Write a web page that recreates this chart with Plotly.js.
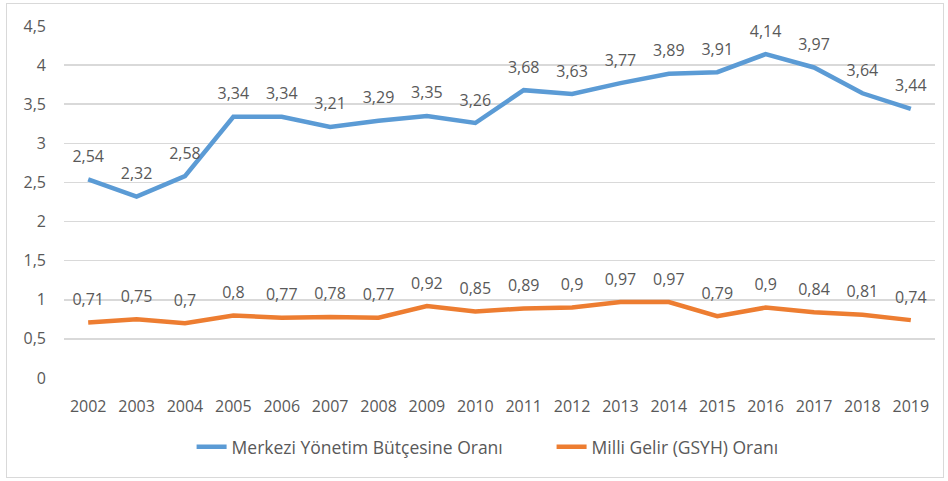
<!DOCTYPE html>
<html>
<head>
<meta charset="utf-8">
<script src="https://cdn.plot.ly/plotly-3.0.1.min.js"></script>
<style>
  html, body { margin: 0; padding: 0; background: #fff; }
  #wrap { position: relative; width: 948px; height: 481px; }
  #chart { width: 948px; height: 481px; }
  #frame { position: absolute; left: 6px; top: 3px; width: 936px; height: 473px;
           border: 1.5px solid #d9d9d9; pointer-events: none; }
</style>
</head>
<body>
<div id="wrap">
  <div id="chart"></div>
  <div id="frame"></div>
</div>
<script>
const years = ["2002","2003","2004","2005","2006","2007","2008","2009","2010","2011","2012","2013","2014","2015","2016","2017","2018","2019"];
const budgetShare = [2.54, 2.32, 2.58, 3.34, 3.34, 3.21, 3.29, 3.35, 3.26, 3.68, 3.63, 3.77, 3.89, 3.91, 4.14, 3.97, 3.64, 3.44];
const gdpShare = [0.71, 0.75, 0.70, 0.80, 0.77, 0.78, 0.77, 0.92, 0.85, 0.89, 0.90, 0.97, 0.97, 0.79, 0.90, 0.84, 0.81, 0.74];
const seriesNames = ["Merkezi Yönetim Bütçesine Oranı", "Milli Gelir (GSYH) Oranı"];
const yTicks = [0, 0.5, 1, 1.5, 2, 2.5, 3, 3.5, 4, 4.5];

const fmt = v => String(v).replace('.', ',');
const FONT = "Open Sans, sans-serif";
const TXT = "#595959";
const FS = 16;

function series(vals, name, color, legendId) {
  return {
    x: years, y: vals, name: name, type: 'scatter', mode: 'lines+markers+text',
    legend: legendId,
    line: { color: color, width: 4.5 },
    marker: { size: 20, color: 'rgba(0,0,0,0)', line: { width: 0 } },
    text: vals.map(fmt), textposition: 'top center',
    textfont: { family: FONT, size: FS, color: TXT },
    cliponaxis: false, hoverinfo: 'skip'
  };
}

const traces = [
  series(budgetShare, seriesNames[0], '#5B9BD5', 'legend'),
  series(gdpShare, seriesNames[1], '#ED7D31', 'legend2')
];

const legendBase = {
  orientation: 'h', xanchor: 'left', y: -0.196, yanchor: 'middle',
  font: { family: FONT, size: 17.5, color: TXT }, bgcolor: 'rgba(0,0,0,0)'
};

const layout = {
  width: 948, height: 481,
  margin: { l: 64, r: 13, t: 26, b: 103, autoexpand: false },
  paper_bgcolor: '#fff', plot_bgcolor: '#fff',
  separators: ',.',
  font: { family: FONT, size: FS, color: TXT },
  showlegend: true,
  legend: Object.assign({ x: 0.1465 }, legendBase),
  legend2: Object.assign({ x: 0.5598 }, legendBase),
  xaxis: {
    type: 'category', range: [-0.5, 17.5], showgrid: false, zeroline: false,
    showline: false, ticks: '', tickfont: { family: FONT, size: FS, color: TXT },
    ticklabelstandoff: 17, fixedrange: true
  },
  yaxis: {
    range: [0, 4.5], tickvals: yTicks, ticktext: yTicks.map(fmt),
    showgrid: true, gridcolor: '#d9d9d9', gridwidth: 1.5,
    zeroline: false, showline: false, ticks: '',
    tickfont: { family: FONT, size: FS, color: TXT }, ticklabelstandoff: 17,
    fixedrange: true
  }
};

Plotly.newPlot('chart', traces, layout, { displayModeBar: false, staticPlot: true });
</script>
</body>
</html>
